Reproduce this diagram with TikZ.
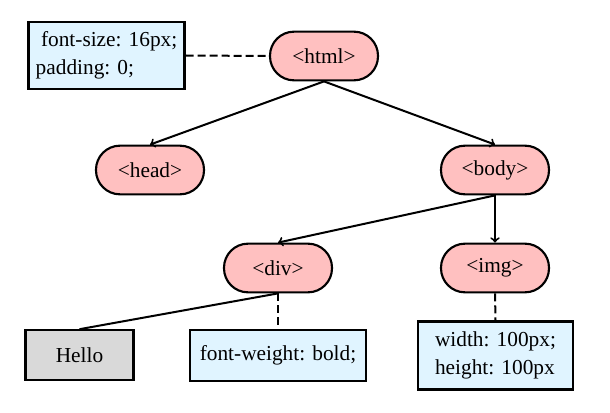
\documentclass[tikz,border=0pt]{standalone}
\usepackage{fontspec}
\setmainfont{Liberation Serif}
\usetikzlibrary{arrows}
\definecolor{tagpink}{RGB}{255,192,192}
\definecolor{cssblue}{RGB}{224,244,255}
\definecolor{textgray}{RGB}{217,217,217}
\begin{document}
\begin{tikzpicture}[x=0.75pt,y=-0.75pt,->,>=to,line width=1.5pt,
  tag node/.style={draw,fill=tagpink,line width=1.6pt,rounded corners=18pt,minimum width=81pt,minimum height=36.5pt,font=\fontsize{16}{19}\selectfont},
  css node/.style={draw,fill=cssblue,line width=1.7pt,inner sep=3pt,font=\fontsize{16}{21}\selectfont},
  text node/.style={draw,fill=textgray,line width=1.7pt,minimum width=81pt,minimum height=37pt,font=\fontsize{16}{19}\selectfont},
  css link/.style={-,dash pattern=on 6pt off 3pt}]

  \useasboundingbox (0,0) rectangle (610,413);

  \foreach \place/\x/\t in {
    {(324,56)/html/{<html>}},
    {(150,170)/head/{<head>}},
    {(495,170)/body/{<body>}},
    {(278,268)/div/{<div>}},
    {(495,268)/img/{<img>}}}
  \node[tag node] (\x) at \place {\t};

  \node[css node,align=left,minimum width=117pt,minimum height=50pt] (htmlcss) at (106.5,55.5) {\ font-size: 16px;\\padding: 0;};
  \node[css node,minimum width=132pt,minimum height=38pt] (divcss) at (278,355.5) {font-weight: bold;};
  \node[css node,align=left,minimum width=116pt,minimum height=51pt] (imgcss) at (495.5,355.5) {width: 100px;\\height: 100px};
  \node[text node] (hello) at (79.5,355) {Hello};

  \path
    (html.south) edge (head.north)
    (html.south) edge (body.north)
    (body.south) edge (div.north)
    (body.south) edge (img.north);

  \path[-]
    (div.south) edge (hello.north)
    (div.south) edge[css link] (divcss.north)
    (img.south) edge[css link] (imgcss.north)
    (htmlcss.east) edge[css link] (html.west);
\end{tikzpicture}
\end{document}
